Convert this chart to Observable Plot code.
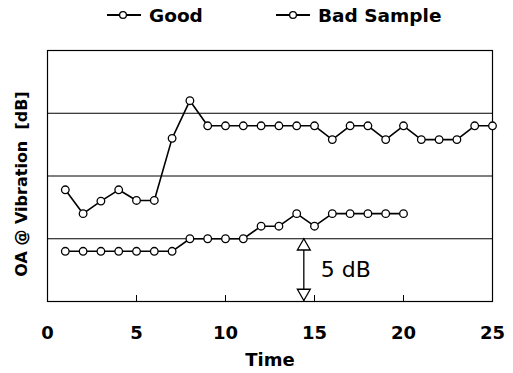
<!DOCTYPE html>
<html>
<head>
<meta charset="utf-8">
<script src="https://cdn.jsdelivr.net/npm/d3@7"></script>
<script src="https://cdn.jsdelivr.net/npm/@observablehq/plot@0.6"></script>
<style>
  html, body { margin: 0; padding: 0; background: #fff; }
  #chart { width: 513px; height: 373px; font-family: "DejaVu Sans", sans-serif; }
  #legend { display: block; }
  #plot svg { display: block; }
</style>
</head>
<body>
<div id="chart">
  <svg id="legend" width="513" height="40"></svg>
  <div id="plot"></div>
</div>
<script>
// ---- data ----
const seriesNames = ["Good", "Bad Sample"];
const goodTime = [1, 2, 3, 4, 5, 6, 7, 8, 9, 10, 11, 12, 13, 14, 15, 16, 17, 18, 19, 20];
const goodValues = [4, 4, 4, 4, 4, 4, 4, 5, 5, 5, 5, 6, 6, 7, 6, 7, 7, 7, 7, 7];
const badTime = [1, 2, 3, 4, 5, 6, 7, 8, 9, 10, 11, 12, 13, 14, 15, 16, 17, 18, 19, 20, 21, 22, 23, 24, 25];
const badValues = [8.9, 7.0, 8.0, 8.9, 8.05, 8.05, 13.0, 16.0, 14, 14, 14, 14, 14, 14, 14, 12.9, 14, 14, 12.9, 14, 12.9, 12.9, 12.9, 14, 14];
const xTickLabels = [0, 5, 10, 15, 20, 25];
const xInnerTicks = [5, 10, 15, 20];
const yGrid = [5, 10, 15];
const xTitle = "Time";
const yTitle = "OA @ Vibration  [dB]";
const scaleNote = "5 dB";
const scaleArrow = {time: 14.4, from: 0, to: 5};

const good = goodTime.map((t, i) => ({time: t, value: goodValues[i]}));
const bad = badTime.map((t, i) => ({time: t, value: badValues[i]}));

// ---- legend (above the plot SVG) ----
const leg = d3.select("#legend");
const legendItems = [
  {name: seriesNames[0], x0: 107, x1: 141, cx: 123, tx: 149},
  {name: seriesNames[1], x0: 276, x1: 310, cx: 293, tx: 318}
];
legendItems.forEach(it => {
  leg.append("line").attr("x1", it.x0).attr("x2", it.x1).attr("y1", 15).attr("y2", 15)
    .attr("stroke", "#000").attr("stroke-width", 2);
  leg.append("circle").attr("cx", it.cx).attr("cy", 15).attr("r", 3.4)
    .attr("fill", "#fff").attr("stroke", "#000").attr("stroke-width", 1.3);
  leg.append("text").attr("x", it.tx).attr("y", 22).text(it.name)
    .attr("font-family", "DejaVu Sans").attr("font-weight", "bold").attr("font-size", 18.5)
    .attr("fill", "#000");
});

// ---- plot ----
const plot = Plot.plot({
  width: 513,
  height: 333,
  marginTop: 10,
  marginBottom: 72,
  marginLeft: 47,
  marginRight: 21,
  style: {fontFamily: "DejaVu Sans", background: "#fff", color: "#000"},
  x: {domain: [0, 25], axis: null},
  y: {domain: [0, 20], axis: null},
  marks: [
    Plot.ruleY(yGrid, {stroke: "#000", strokeWidth: 1}),
    Plot.frame({stroke: "#000", strokeWidth: 1.2}),
    Plot.axisX({ticks: xInnerTicks, tickSize: -6, text: null, label: null, stroke: "#000"}),
    Plot.axisX({ticks: xTickLabels, tickSize: 0, tickPadding: 25, label: null,
      fontSize: 18, fontWeight: "bold", fill: "#000"}),
    Plot.text([xTitle], {frameAnchor: "bottom", dy: 64, fontSize: 18, fontWeight: "bold", fill: "#000"}),
    Plot.text([yTitle], {frameAnchor: "left", textAnchor: "middle", rotate: -90, dx: -26, dy: 8, fontSize: 16, fontWeight: "bold", fill: "#000"}),
    // 5 dB scale marker
    Plot.ruleX([scaleArrow], {x: "time", y1: "from", y2: "to", stroke: "#000", strokeWidth: 1.3}),
    Plot.dot([scaleArrow], {x: "time", y: "to", symbol: "triangle", r: 4.8, dy: 7.5, fill: "#fff", stroke: "#000", strokeWidth: 1.3}),
    Plot.dot([scaleArrow], {x: "time", y: "from", symbol: "triangle", rotate: 180, r: 4.8, dy: -8.5, fill: "#fff", stroke: "#000", strokeWidth: 1.3}),
    Plot.text([scaleNote], {x: scaleArrow.time, y: (scaleArrow.from + scaleArrow.to) / 2, dx: 17, dy: 0, textAnchor: "start", fontSize: 22, fill: "#000"}),
    // series
    Plot.line(bad, {x: "time", y: "value", stroke: "#000", strokeWidth: 1.6}),
    Plot.dot(bad, {x: "time", y: "value", r: 3.8, fill: "#fff", stroke: "#000", strokeWidth: 1.3}),
    Plot.line(good, {x: "time", y: "value", stroke: "#000", strokeWidth: 1.6}),
    Plot.dot(good, {x: "time", y: "value", r: 3.8, fill: "#fff", stroke: "#000", strokeWidth: 1.3})
  ]
});
document.getElementById("plot").appendChild(plot);
</script>
</body>
</html>
